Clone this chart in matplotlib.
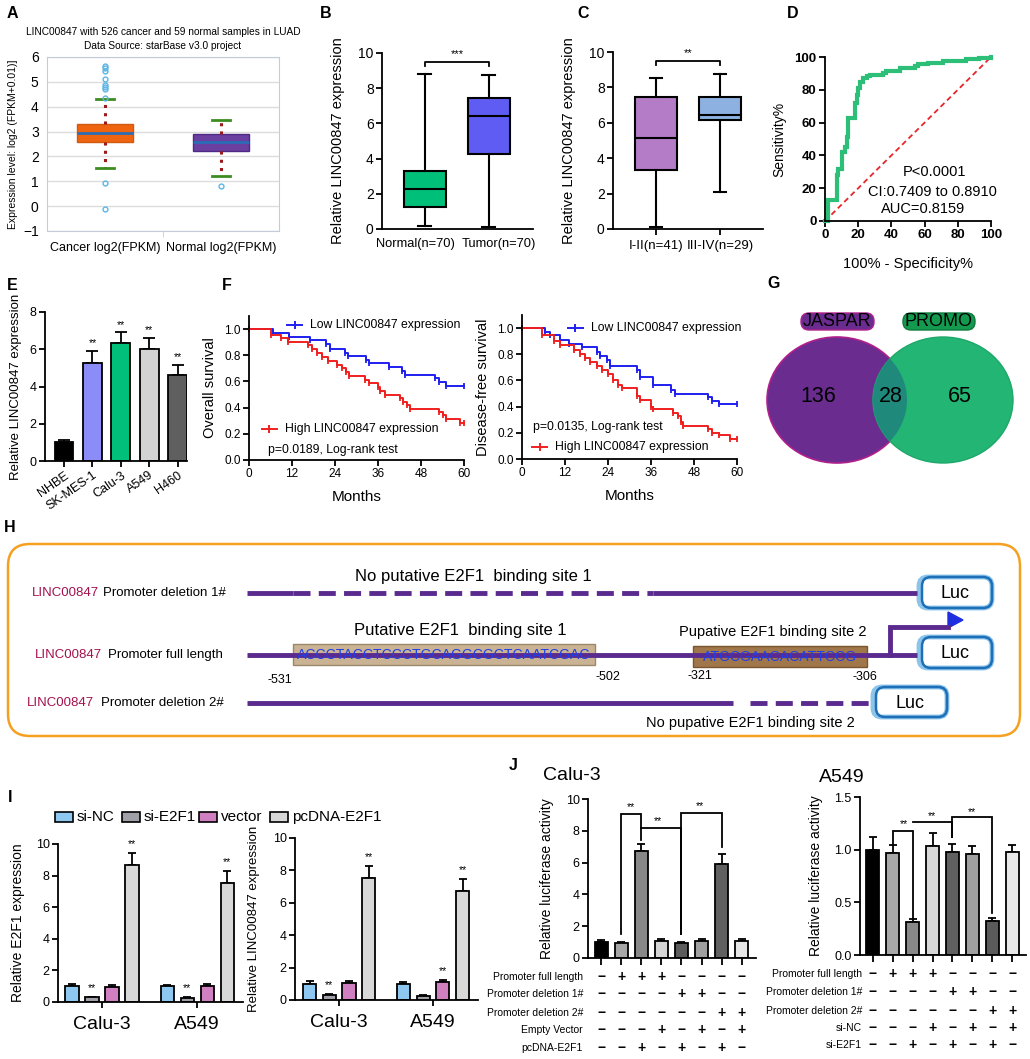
import numpy as np
import matplotlib
matplotlib.use("Agg")
import matplotlib.pyplot as plt
from matplotlib.patches import Ellipse, FancyBboxPatch, Rectangle, Polygon
from matplotlib.transforms import blended_transform_factory

plt.rcParams['font.family'] = ['Liberation Sans', 'DejaVu Sans']

W, H = 1030, 1059

# ---------------- data ----------------
# A: starBase box plot
a_labels = ['Cancer log2(FPKM)', 'Normal log2(FPKM)']
a_q1 = [2.6, 2.2]
a_med = [2.95, 2.57]
a_q3 = [3.3, 2.9]
a_lo = [1.55, 1.2]
a_hi = [4.3, 3.47]
a_fliers = [[-0.1, 0.95, 4.35, 4.7, 4.8, 4.88, 5.1, 5.45, 5.55, 5.62], [0.8]]

# B: normal vs tumor
b_labels = ['Normal(n=70)', 'Tumor(n=70)']
b_q1 = [1.25, 4.25]
b_med = [2.25, 6.4]
b_q3 = [3.3, 7.45]
b_lo = [0.15, 0.1]
b_hi = [8.8, 8.75]

# C: stage
c_labels = ['I-II(n=41)', 'III-IV(n=29)']
c_q1 = [3.35, 6.15]
c_med = [5.15, 6.45]
c_q3 = [7.45, 7.45]
c_lo = [0.1, 2.1]
c_hi = [8.55, 8.75]

# D: ROC
roc_fpr = [0, 2, 7, 8, 10, 12, 13, 14, 18, 19, 20, 21, 23, 25, 27, 35, 37, 45, 54, 56, 62, 71, 85, 93, 100]
roc_tpr = [0, 13, 28, 32, 42, 45, 51, 63, 72, 77, 81, 85, 87, 88.5, 89, 90.5, 91.5, 93, 94.5, 95.5, 96.5, 97.5, 99, 99.5, 100]

# E: cell lines
e_labels = ['NHBE', 'SK-MES-1', 'Calu-3', 'A549', 'H460']
e_vals = [1.0, 5.25, 6.35, 6.0, 4.6]
e_err = [0.12, 0.65, 0.55, 0.6, 0.55]
e_stars = [False, True, True, True, True]

# F: Kaplan-Meier
os_low_t = [0, 6.7, 11.3, 17, 21.4, 22.5, 26.7, 27.6, 32.7, 33.5, 39, 42.7, 43.4, 52, 53, 55, 60]
os_low_s = [1.0, 0.97, 0.94, 0.915, 0.885, 0.85, 0.82, 0.795, 0.765, 0.74, 0.71, 0.68, 0.65, 0.625, 0.595, 0.565, 0.565]
os_high_t = [0, 6, 9, 11, 16.5, 17.5, 19, 20.5, 22, 24.5, 26, 27, 28, 32.5, 33.5, 36, 36.5, 38, 42, 43, 44, 45, 53, 54,
             55, 59, 60]
os_high_s = [1.0, 0.955, 0.93, 0.90, 0.875, 0.845, 0.815, 0.785, 0.755, 0.725, 0.70, 0.67, 0.64, 0.61, 0.585, 0.555,
             0.525, 0.50, 0.47, 0.445, 0.42, 0.39, 0.365, 0.34, 0.31, 0.285, 0.285]
dfs_low_t = [0, 6.5, 7.9, 10.7, 13, 16.7, 21, 21.8, 23.7, 24.6, 32, 33, 36.6, 41.7, 42.7, 52, 53, 55, 60]
dfs_low_s = [1.0, 0.97, 0.945, 0.91, 0.88, 0.855, 0.82, 0.79, 0.755, 0.71, 0.68, 0.625, 0.565, 0.53, 0.50, 0.47, 0.445,
             0.42, 0.42]
dfs_high_t = [0, 5.6, 8.8, 10.7, 14.4, 16.2, 17.6, 19, 20.9, 22.3, 24.1, 25.5, 26.9, 27.8, 32, 33, 36, 36.6, 42, 43.5,
              44.5, 45, 52, 53, 55, 58, 60]
dfs_high_s = [1.0, 0.95, 0.905, 0.87, 0.835, 0.805, 0.77, 0.74, 0.71, 0.68, 0.65, 0.60, 0.565, 0.54, 0.48, 0.45, 0.40,
              0.38, 0.355, 0.325, 0.285, 0.255, 0.23, 0.20, 0.18, 0.15, 0.15]

# G: Venn
venn_counts = [136, 28, 65]
venn_sets = ['JASPAR', 'PROMO']

# I: E2F1 / LINC00847 expression
i_groups = ['Calu-3', 'A549']
i_series = ['si-NC', 'si-E2F1', 'vector', 'pcDNA-E2F1']
i_e2f1 = [[1.0, 0.3, 0.98, 8.7], [1.0, 0.25, 1.0, 7.55]]
i_e2f1_err = [[0.12, 0.04, 0.07, 0.7], [0.1, 0.05, 0.12, 0.75]]
i_e2f1_star = [[False, True, False, True], [False, True, False, True]]
i_linc = [[1.0, 0.3, 1.05, 7.55], [1.0, 0.25, 1.1, 6.75]]
i_linc_err = [[0.15, 0.06, 0.15, 0.7], [0.13, 0.05, 0.12, 0.7]]
i_linc_star = [[False, True, False, True], [False, False, True, True]]

# J: luciferase
j_calu = [1.0, 0.95, 6.75, 1.1, 0.95, 1.1, 5.9, 1.1]
j_calu_err = [0.12, 0.08, 0.45, 0.12, 0.07, 0.12, 0.65, 0.1]
j_a549 = [1.0, 0.965, 0.315, 1.035, 0.975, 0.955, 0.32, 0.975]
j_a549_err = [0.12, 0.08, 0.025, 0.12, 0.08, 0.08, 0.03, 0.07]
j_calu_rows = ['Promoter full length', 'Promoter deletion 1#', 'Promoter deletion 2#', 'Empty Vector', 'pcDNA-E2F1']
j_a549_rows = ['Promoter full length', 'Promoter deletion 1#', 'Promoter deletion 2#', 'si-NC', 'si-E2F1']
j_calu_signs = ['-+++----', '----++--', '------++', '---+-+-+', '--+-+-+-']
j_a549_signs = ['-+++----', '----++--', '------++', '---+-+-+', '--+-+-+-']

# ---------------- figure ----------------
fig = plt.figure(figsize=(W / 100, H / 100), dpi=100)
ov = fig.add_axes([0, 0, 1, 1])
ov.set_xlim(0, W)
ov.set_ylim(H, 0)
ov.set_axis_off()


def px_ax(l, t, r, b):
    return fig.add_axes([l / W, 1 - b / H, (r - l) / W, (b - t) / H])


def prism(ax, fs=9):
    for s in ['top', 'right']:
        ax.spines[s].set_visible(False)
    for s in ['left', 'bottom']:
        ax.spines[s].set_linewidth(1.3)
    ax.tick_params(width=1.3, length=4, labelsize=fs, pad=2)


def stats(q1, med, q3, lo, hi, fl=None):
    out = []
    for i in range(len(q1)):
        out.append(dict(q1=q1[i], med=med[i], q3=q3[i], whislo=lo[i], whishi=hi[i],
                        fliers=fl[i] if fl else []))
    return out


# panel letters
for lab, x, y in [('A', 12, 13), ('B', 326, 13), ('C', 583, 13), ('D', 793, 13), ('E', 12, 285),
                  ('F', 227, 285), ('G', 774, 283), ('H', 10, 527), ('I', 10, 797), ('J', 513, 765)]:
    ov.text(x, y, lab, fontsize=11.5, fontweight='bold', ha='center', va='center')

# ---- A ----
axA = px_ax(47, 57, 279, 231)
bp = axA.bxp(stats(a_q1, a_med, a_q3, a_lo, a_hi, a_fliers), positions=[0, 1], widths=0.48,
             patch_artist=True, capwidths=0.16,
             whiskerprops=dict(color='#9B1B1B', linestyle=(0, (1, 1.7)), lw=2.2),
             capprops=dict(color='#3C8C20', lw=2),
             medianprops=dict(color='#2B6CB5', lw=2),
             flierprops=dict(marker='o', mfc='none', mec='#5BB5E5', ms=3.5, mew=1))
for patch, fc, ec in zip(bp['boxes'], ['#EE6411', '#6B3FA0'], ['#D05A10', '#4F2A85']):
    patch.set_facecolor(fc)
    patch.set_edgecolor(ec)
axA.set_xlim(-0.5, 1.5)
axA.set_ylim(-1, 6)
axA.set_yticks(range(-1, 7))
axA.yaxis.grid(True, color='#DCDCDC', lw=1)
axA.set_axisbelow(True)
axA.set_xticks([0, 1])
axA.set_xticklabels(a_labels, fontsize=9)
axA.set_xticks([0.5], minor=True)
axA.tick_params(axis='x', which='major', length=0, pad=8)
axA.tick_params(axis='x', which='minor', length=4, color='#C5CCD9')
axA.tick_params(axis='y', length=0, labelsize=10, pad=6)
for s in axA.spines.values():
    s.set_color('#C5CCD9')
axA.set_ylabel('Expression level: log2 (FPKM+0.01)]', fontsize=7.5)
axA.yaxis.set_label_coords(-0.125, 0.5)
ov.text(163, 32, 'LINC00847 with 526 cancer and 59 normal samples in LUAD', fontsize=7.3, ha='center', va='center')
ov.text(163, 46, 'Data Source: starBase v3.0 project', fontsize=7.3, ha='center', va='center')


# ---- B ----
def prism_box(ax, st, colors, capw=0.2):
    bp = ax.bxp(st, positions=[0, 1], widths=0.66, patch_artist=True, capwidths=capw, showfliers=False,
                whiskerprops=dict(color='black', lw=1.5), capprops=dict(color='black', lw=1.5),
                medianprops=dict(color='black', lw=1.5), boxprops=dict(lw=1.5))
    for patch, fc in zip(bp['boxes'], colors):
        patch.set_facecolor(fc)
        patch.set_edgecolor('black')


axB = px_ax(382, 53, 533, 229)
prism(axB, 10)
prism_box(axB, stats(b_q1, b_med, b_q3, b_lo, b_hi), ['#00BF78', '#5E5CF2'])
axB.set_xlim(-0.67, 1.69)
axB.set_ylim(0, 10)
axB.set_yticks(range(0, 11, 2))
axB.set_xticks([0, 1])
axB.set_xticklabels([])
axB.tick_params(axis='x', length=0)
trB = blended_transform_factory(axB.transData, ov.transData)
for x, lab in zip([-0.14, 1.16], b_labels):
    axB.text(x, 244, lab, transform=trB, ha='center', va='center', fontsize=9.3)
axB.set_ylabel('Relative LINC00847 expression', fontsize=10.5)
axB.yaxis.set_label_coords(-0.245, 0.5)
axB.plot([0, 0, 1, 1], [9.25, 9.5, 9.5, 9.25], color='black', lw=1.3, clip_on=False)
axB.text(0.5, 9.65, '***', ha='center', va='bottom', fontsize=8)

# ---- C ----
axC = px_ax(613, 52, 763, 229)
prism(axC, 10)
prism_box(axC, stats(c_q1, c_med, c_q3, c_lo, c_hi), ['#B47CC7', '#8DB2E2'])
axC.set_xlim(-0.67, 1.67)
axC.set_ylim(0, 10)
axC.set_yticks(range(0, 11, 2))
axC.set_xticks([0, 1])
axC.set_xticklabels(c_labels, fontsize=9.5)
axC.tick_params(axis='x', length=4, pad=4)
axC.set_ylabel('Relative LINC00847 expression', fontsize=10.5)
axC.yaxis.set_label_coords(-0.25, 0.5)
axC.plot([0, 0, 1, 1], [9.25, 9.5, 9.5, 9.25], color='black', lw=1.3, clip_on=False)
axC.text(0.5, 9.65, '**', ha='center', va='bottom', fontsize=8)

# ---- D ----
axD = px_ax(825, 57, 991, 221)
prism(axD, 9.5)
axD.plot([0, 100], [0, 100], color='#E8262A', lw=1.3, linestyle=(0, (3, 2)))
axD.plot(roc_fpr, roc_tpr, drawstyle='steps-post', color='#2DBE78', lw=3, clip_on=False,
         solid_joinstyle='miter')
axD.set_xlim(0, 100)
axD.set_ylim(0, 100)
axD.set_xticks(range(0, 101, 20))
axD.set_yticks(range(0, 101, 20))
for t in axD.get_xticklabels() + axD.get_yticklabels():
    t.set_fontweight('bold')
axD.set_ylabel('Sensitivity%', fontsize=10)
axD.yaxis.set_label_coords(-0.23, 0.5)
axD.set_xlabel('100% - Specificity%', fontsize=10.5)
axD.xaxis.set_label_coords(0.5, -0.22)
axD.text(66, 30, 'P<0.0001', ha='center', va='center', fontsize=10.5)
axD.text(64.5, 17.7, 'CI:0.7409 to 0.8910', ha='center', va='center', fontsize=10.5)
axD.text(59, 7.3, 'AUC=0.8159', ha='center', va='center', fontsize=10.5)

# ---- E ----
axE = px_ax(45, 312, 187, 461)
prism(axE, 9)
xe = np.arange(len(e_vals))
axE.bar(xe, e_vals, width=0.66, color=['#000000', '#8C8CF8', '#00C07A', '#D3D3D3', '#5F5F5F'],
        edgecolor='black', lw=1.3, zorder=2)
axE.errorbar(xe, e_vals, yerr=[np.zeros(len(e_err)), e_err], fmt='none', ecolor='black', elinewidth=1.3,
             capsize=4, capthick=1.3, zorder=1)
for x, v, er, s in zip(xe, e_vals, e_err, e_stars):
    if s:
        axE.text(x, v + er + 0.15, '**', ha='center', va='bottom', fontsize=7.5)
axE.set_xlim(-0.67, 4.33)
axE.set_ylim(0, 8)
axE.set_yticks(range(0, 9, 2))
axE.set_xticks(xe)
axE.set_xticklabels(e_labels, rotation=35, ha='right', rotation_mode='anchor', fontsize=9)
axE.set_ylabel('Relative LINC00847 expression', fontsize=9.5)
axE.yaxis.set_label_coords(-0.16, 0.5)


# ---- F ----
def km_panel(ax, lt, ls, ht, hs, ylabel, leg_low, leg_high, ptext, pxy):
    prism(ax, 8.5)
    ax.plot(lt, ls, drawstyle='steps-post', color='#1F1FF0', lw=1.4, marker='|', ms=5, mew=1.3, clip_on=False)
    ax.plot(ht, hs, drawstyle='steps-post', color='#F01F1F', lw=1.4, marker='|', ms=5, mew=1.3, clip_on=False)
    ax.set_xlim(0, 60)
    ax.set_ylim(0, 1.1)
    ax.set_xticks(range(0, 61, 12))
    ax.set_yticks(np.arange(0, 1.01, 0.2))
    ax.set_yticklabels(['0.0', '0.2', '0.4', '0.6', '0.8', '1.0'])
    ax.set_ylabel(ylabel, fontsize=10.5)
    ax.yaxis.set_label_coords(-0.15, 0.5)
    ax.set_xlabel('Months', fontsize=11)
    ax.xaxis.set_label_coords(0.5, -0.21)
    for (x0, x1, y, txt, col) in [leg_low + ('Low LINC00847 expression', '#1F1FF0'),
                                  leg_high + ('High LINC00847 expression', '#F01F1F')]:
        ax.plot([x0, x1], [y, y], color=col, lw=1.4, clip_on=False)
        ax.plot([(x0 + x1) / 2], [y], color=col, marker='|', ms=6, mew=1.4, clip_on=False)
        ax.text(x1 + 2.2, y, txt, va='center', ha='left', fontsize=8.8)
    ax.text(pxy[0], pxy[1], ptext, va='center', ha='left', fontsize=8.8)


axF1 = px_ax(249, 316, 464, 460)
km_panel(axF1, os_low_t, os_low_s, os_high_t, os_high_s, 'Overall survival',
         (10.6, 14.8, 1.03), (3.6, 7.8, 0.24), 'p=0.0189, Log-rank test', (5.3, 0.08))
axF2 = px_ax(522, 315, 737, 459)
km_panel(axF2, dfs_low_t, dfs_low_s, dfs_high_t, dfs_high_s, 'Disease-free survival',
         (12.8, 17.0, 1.0), (2.8, 7.0, 0.09), 'p=0.0135, Log-rank test', (3.1, 0.245))

# ---- G: Venn ----
e1 = Ellipse((837, 400), 140, 126, facecolor='#6A2D8F', edgecolor='#B0208C', lw=1.2)
e2 = Ellipse((943, 400), 140, 126, facecolor='#22B573', edgecolor='#1FA86A', lw=1.0)
ov.add_patch(e1)
ov.add_patch(e2)
e3 = Ellipse((943, 400), 140, 126, facecolor='#1F8A7C', edgecolor='none')
ov.add_patch(e3)
e3.set_clip_path(e1)
for txt, x in zip(venn_counts, [818, 891, 960]):
    ov.text(x, 396, str(txt), fontsize=15.5, ha='center', va='center')
for name, (x0, x1), fc, ec in zip(venn_sets, [(801, 874), (903, 975)], ['#6A2D8F', '#139A4F'],
                                  ['#B0208C', '#0E7A3C']):
    ov.add_patch(FancyBboxPatch((x0, 313), x1 - x0, 17, boxstyle='round,pad=0,rounding_size=8',
                                facecolor=fc, edgecolor=ec, lw=1))
    ov.text((x0 + x1) / 2, 322, name, fontsize=13, ha='center', va='center')

# ---- H: promoter diagram ----
ov.add_patch(FancyBboxPatch((8, 544), 1012, 192, boxstyle='round,pad=0,rounding_size=22',
                            facecolor='none', edgecolor='#F5A01F', lw=1.8))
purple = '#5B2A8E'
row_y = [593, 655, 703]
row_names = ['Promoter deletion 1#', 'Promoter full length', 'Promoter deletion 2#']
for y, xl, xr, name in zip(row_y, [32, 35, 27], [103, 108, 101], row_names):
    ov.text(xl, y, 'LINC00847', color='#A3114E', fontsize=9.5, ha='left', va='center')
    ov.text(xr, y, name, color='black', fontsize=9.5, ha='left', va='center')

dash = (0, (3.5, 1.7))
ov.plot([247, 293], [593, 593], color=purple, lw=3.5, solid_capstyle='butt')
ov.plot([293, 653], [593, 593], color=purple, lw=3.5, linestyle=dash, dash_capstyle='butt')
ov.plot([653, 917], [593, 593], color=purple, lw=3.5, solid_capstyle='butt')
ov.plot([247, 917], [655, 655], color=purple, lw=3.5, solid_capstyle='butt')
ov.plot([890, 890, 948], [655, 627, 627], color=purple, lw=3.5, solid_joinstyle='miter')
ov.add_patch(Polygon([(948, 612), (948, 628), (963, 620)], closed=True, facecolor='#1F2FE0', edgecolor='#1F2FE0'))
ov.plot([247, 733], [703, 703], color=purple, lw=3.5, solid_capstyle='butt')
ov.plot([750, 870], [703, 703], color=purple, lw=3.5, linestyle=dash, dash_capstyle='butt')

for (x0, y0, x1, y1) in [(919, 577, 992, 608), (919, 637, 992, 668), (873, 687, 947, 717)]:
    ov.add_patch(FancyBboxPatch((x0, y0), x1 - x0, y1 - y0, boxstyle='round,pad=0,rounding_size=9',
                                facecolor='white', edgecolor='#8CC4EA', lw=3.5))
    ov.add_patch(FancyBboxPatch((x0 + 3, y0), x1 - x0 - 3, y1 - y0, boxstyle='round,pad=0,rounding_size=9',
                                facecolor='none', edgecolor='#1D6FB8', lw=1.8))
    ov.text((x0 + x1) / 2, (y0 + y1) / 2 + 1, 'Luc', fontsize=13, ha='center', va='center')

ov.add_patch(Rectangle((293, 644), 302, 21, facecolor='#C9B394', edgecolor='#9C8868', lw=1))
ov.text(444, 655, 'ACCCTACCTCCCTGCAGGCGCTCAATCGAC', color='#1F3FE8', fontsize=10.1, ha='center', va='center')
ov.add_patch(Rectangle((693, 646), 174, 21, facecolor='#A0774A', edgecolor='#7A5530', lw=1))
ov.text(780, 657, 'ATGCGAACACATTCCG', color='#1F3FE8', fontsize=10.1, ha='center', va='center')

ov.text(473, 576, 'No putative E2F1  binding site 1', fontsize=12, ha='center', va='center')
ov.text(460, 630, 'Putative E2F1  binding site 1', fontsize=12, ha='center', va='center')
ov.text(773, 632, 'Pupative E2F1 binding site 2', fontsize=10.5, ha='center', va='center')
ov.text(750, 723, 'No pupative E2F1 binding site 2', fontsize=10.5, ha='center', va='center')
for txt, x, y in [('-531', 280, 680), ('-502', 608, 677), ('-321', 700, 676), ('-306', 865, 677)]:
    ov.text(x, y, txt, fontsize=9, ha='center', va='center')

# ---- I ----
i_colors = ['#8EC8F0', '#A0A0A8', '#D080C0', '#D8D8D8']
i_offsets = [-0.315, -0.105, 0.105, 0.315]
for (xr, name), col in zip(zip([55, 122, 199, 270], i_series), i_colors):
    ov.add_patch(Rectangle((xr, 812), 18, 10, facecolor=col, edgecolor='black', lw=1.2))
    ov.text(xr + 22, 817, name, fontsize=11, ha='left', va='center')


def grouped(ax, vals, errs, stars):
    for k in range(4):
        xs = [g + i_offsets[k] for g in range(len(vals))]
        v = [vals[g][k] for g in range(len(vals))]
        e = [errs[g][k] for g in range(len(vals))]
        ax.bar(xs, v, width=0.14, color=i_colors[k], edgecolor='black', lw=1.3, zorder=2)
        ax.errorbar(xs, v, yerr=[np.zeros(len(e)), e], fmt='none', ecolor='black', elinewidth=1.3,
                    capsize=3, capthick=1.3, zorder=1)
        for x, vv, ee, g in zip(xs, v, e, range(len(vals))):
            if stars[g][k]:
                ax.text(x, vv + ee + 0.25, '**', ha='center', va='bottom', fontsize=7.5)
    ax.set_ylim(0, 10)
    ax.set_yticks(range(0, 11, 2))
    ax.set_xticks(range(len(vals)))
    ax.set_xticklabels(i_groups, fontsize=14)
    ax.tick_params(axis='x', pad=6)


axI1 = px_ax(58, 844, 243, 1002)
prism(axI1, 9)
grouped(axI1, i_e2f1, i_e2f1_err, i_e2f1_star)
axI1.set_xlim(-0.46, 1.48)
axI1.set_ylabel('Relative E2F1 expression', fontsize=10)
axI1.yaxis.set_label_coords(-0.18, 0.5)
axI2 = px_ax(295, 838, 478, 1000)
prism(axI2, 9)
grouped(axI2, i_linc, i_linc_err, i_linc_star)
axI2.set_xlim(-0.47, 1.48)
axI2.set_ylabel('Relative LINC00847 expression', fontsize=9.5)
axI2.yaxis.set_label_coords(-0.19, 0.5)


# ---- J ----
def luc_panel(ax, vals, errs, colors, rows, signs, row_y, label_x, brackets, star_pos, ymax, yticks, fmt):
    prism(ax, 9)
    xj = np.arange(len(vals))
    ax.bar(xj, vals, width=0.65, color=colors, edgecolor='black', lw=1.3, zorder=2)
    ax.errorbar(xj, vals, yerr=[np.zeros(len(errs)), errs], fmt='none', ecolor='black', elinewidth=1.3,
                capsize=3, capthick=1.3, zorder=1)
    ax.set_ylim(0, ymax)
    ax.set_yticks(yticks)
    ax.set_yticklabels([fmt.format(t) for t in yticks])
    ax.set_xticks(xj)
    ax.set_xticklabels([])
    ax.tick_params(axis='x', length=5)
    for bx, by in brackets:
        ax.plot(bx, by, color='black', lw=1.3, clip_on=False, solid_joinstyle='miter')
    for sx, sy in star_pos:
        ax.text(sx, sy, '**', ha='center', va='center', fontsize=7.5)
    tr = blended_transform_factory(ax.transData, ov.transData)
    for name, sg, y in zip(rows, signs, row_y):
        ov.text(label_x, y, name, fontsize=7.5, ha='right', va='center')
        for x, c in zip(xj, sg):
            ax.text(x, y, '+' if c == '+' else '\u2212', transform=tr, ha='center', va='center',
                    fontsize=10, fontweight='bold', clip_on=False)


ov.text(572, 775, 'Calu-3', fontsize=14, ha='center', va='center')
ov.text(842, 777, 'A549', fontsize=14, ha='center', va='center')

axJ1 = px_ax(588, 799, 756, 958)
luc_panel(axJ1, j_calu, j_calu_err,
          ['#000000', '#A6A6A6', '#888888', '#D6D6D6', '#5C5C5C', '#A0A0A0', '#606060', '#E6E6E6'],
          j_calu_rows, j_calu_signs, [977, 994, 1013, 1030, 1048], 583,
          [([1, 1, 2, 2], [1.5, 9.05, 9.05, 7.4]), ([2, 4, 4], [8.2, 8.2, 1.5]),
           ([4, 4, 6, 6], [1.5, 9.14, 9.14, 7.0])],
          [(1.5, 9.5), (2.85, 8.63), (4.93, 9.56)], 10, list(range(0, 11, 2)), '{:d}')
axJ1.set_xlim(-0.65, 7.71)
axJ1.set_ylabel('Relative luciferase activity', fontsize=10)
axJ1.yaxis.set_label_coords(-0.2, 0.5)

axJ2 = px_ax(860, 797, 1026, 955)
luc_panel(axJ2, j_a549, j_a549_err,
          ['#000000', '#A8A8A8', '#888888', '#D8D8D8', '#606060', '#A0A0A0', '#5A5A5A', '#E8E8E8'],
          j_a549_rows, j_a549_signs, [974, 992, 1011, 1028, 1045], 862,
          [([1, 1, 2, 2], [1.04, 1.18, 1.18, 0.35]), ([2, 4, 4], [1.26, 1.26, 1.12]),
           ([4, 4, 6, 6], [1.12, 1.31, 1.31, 0.395])],
          [(1.56, 1.24), (2.95, 1.32), (4.97, 1.36)], 1.5, [0, 0.5, 1.0, 1.5], '{:.1f}')
axJ2.set_xlim(-0.65, 7.7)
axJ2.set_ylabel('Relative luciferase activity', fontsize=10)
axJ2.yaxis.set_label_coords(-0.22, 0.5)

fig.savefig('out.png', dpi=100)
